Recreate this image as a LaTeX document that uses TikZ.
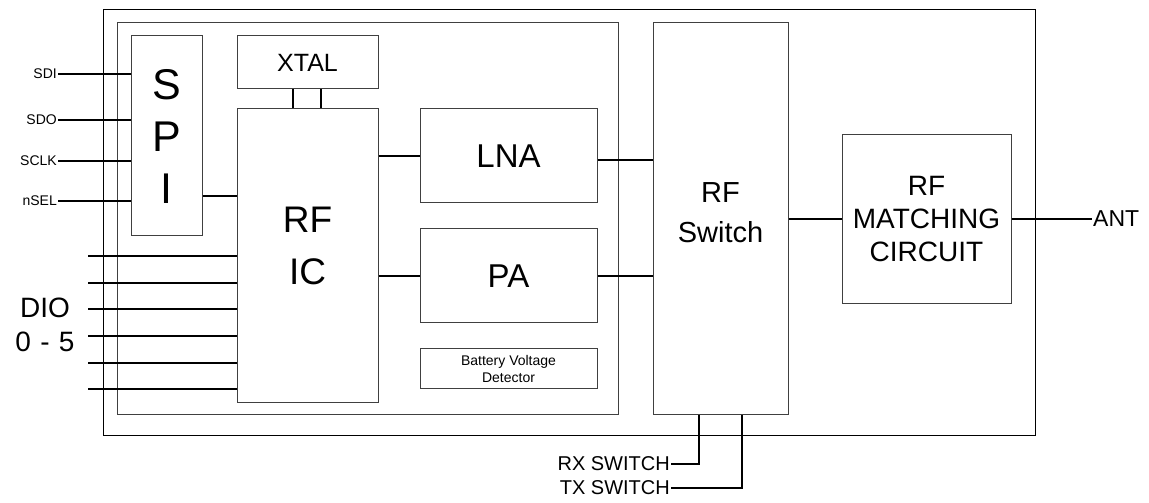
\documentclass[tikz,border=0pt]{standalone}
\usepackage{fontspec}
\setmainfont{Liberation Sans}
\usepackage{tikz}
\usetikzlibrary{calc}

\tikzset{
  blk/.style={draw=black!75, line width=1pt, inner sep=0pt, align=center},
  wire/.style={line width=2pt},
  pin/.style={inner sep=1pt, anchor=east},
}

\begin{document}
\begin{tikzpicture}[x=1pt, y=1pt]
  \useasboundingbox (0,0) rectangle (1149,503);
  \node[blk, draw=black, minimum width=932pt, minimum height=426pt] (module) at (569,280) {};
  \node[blk, minimum width=501pt, minimum height=392pt] (chip) at (367.5,284) {};
  \node[blk, minimum width=71pt, minimum height=200pt, font=\fontsize{43}{52}\selectfont] (spi) at (166.5,367) {S\\P\\I};
  \node[blk, minimum width=141pt, minimum height=53pt, font=\fontsize{25}{30}\selectfont] (xtal) at (307.5,440.5) {XTAL};
  \node[blk, minimum width=141pt, minimum height=294pt, font=\fontsize{37}{52}\selectfont] (rfic) at (307.5,247) {RF\\IC\\[-32pt]};
  \node[blk, minimum width=177pt, minimum height=94pt, font=\fontsize{33}{40}\selectfont] (lna) at (508.5,347) {LNA};
  \node[blk, minimum width=177pt, minimum height=94pt, font=\fontsize{33}{40}\selectfont] (pa) at (508.5,227) {PA};
  \node[blk, minimum width=177pt, minimum height=40pt, font=\fontsize{14}{17}\selectfont] (bat) at (508.5,134) {Battery Voltage\\Detector};
  \node[blk, minimum width=135pt, minimum height=392pt, font=\fontsize{29}{40}\selectfont] (sw) at (720.5,284) {RF\\Switch\\[-28pt]};
  \node[blk, minimum width=169pt, minimum height=169pt, font=\fontsize{28}{33}\selectfont] (match) at (926.5,284) {RF\\MATCHING\\CIRCUIT};
  \node[pin, anchor=west, font=\fontsize{23}{28}\selectfont] (ant) at (1092,284) {ANT};

  \foreach \name/\y in {SDI/429, SDO/383, SCLK/342, nSEL/302} {
    \node[pin, font=\fontsize{14}{17}\selectfont] (\name) at (58,\y) {\name};
    \draw[wire] (\name.east) -- (\name.east -| spi.west);
  }
  \draw[wire] ([yshift=-60pt]spi.east) -- ([yshift=-60pt]spi.east -| rfic.west);
  \foreach \dx in {-14.5,13.5}
    \draw[wire] ([xshift=\dx pt]xtal.south) -- ([xshift=\dx pt]rfic.north);

  \node[align=center, font=\fontsize{28}{34}\selectfont] (dio) at (45,178) {DIO\\0\,\,-\,\,5};
  \foreach \y [count=\i] in {247,220,194,167,140,114} {
    \coordinate (dio\i) at (88,\y);
    \draw[wire] (dio\i) -- (dio\i -| rfic.west);
  }

  \draw[wire] (lna.west -| rfic.east) -- (lna.west);
  \draw[wire] ([yshift=-4pt]lna.east) -- ([yshift=-4pt]lna.east -| sw.west);
  \draw[wire] (pa.west -| rfic.east) -- (pa.west);
  \draw[wire] (pa.east) -- (pa.east -| sw.west);
  \draw[wire] (match.west -| sw.east) -- (match.west);
  \draw[wire] (match.east) -- (ant.west);

  \node[pin, font=\fontsize{20}{24}\selectfont] (rx) at (671,39) {RX SWITCH};
  \node[pin, font=\fontsize{20}{24}\selectfont] (tx) at (671,15) {TX SWITCH};
  \draw[wire] (rx.east) -| ([xshift=-21.5pt]sw.south);
  \draw[wire] (tx.east) -| ([xshift=21.5pt]sw.south);
\end{tikzpicture}
\end{document}
